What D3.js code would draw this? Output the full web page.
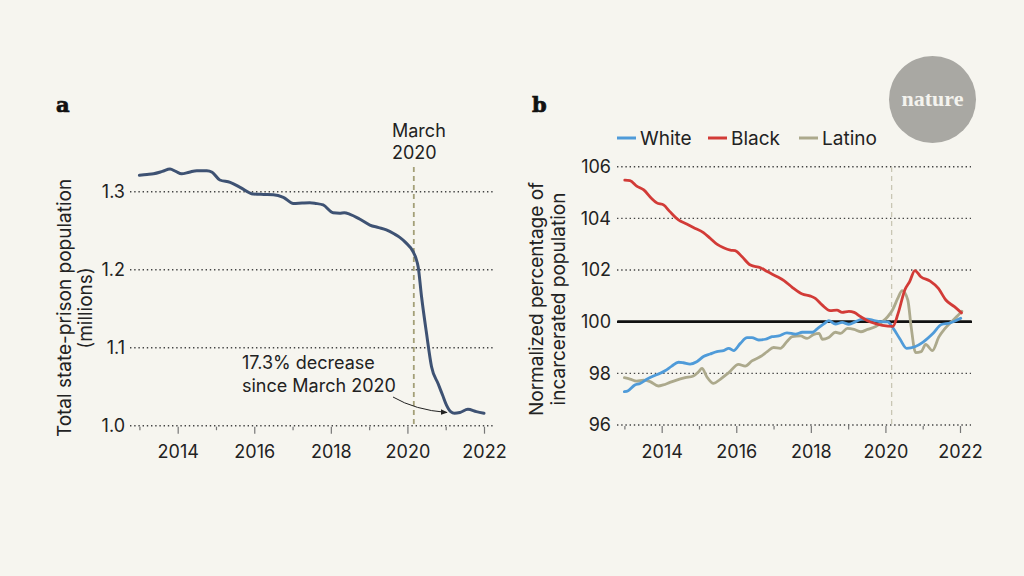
<!DOCTYPE html>
<html>
<head>
<meta charset="utf-8">
<script src="https://cdn.jsdelivr.net/npm/d3@7"></script>
<style>
  html, body { margin: 0; padding: 0; background: #f6f5ef; }
  svg { display: block; font-family: Inter, "Noto Sans", sans-serif; }
</style>
</head>
<body>
<div id="chart"></div>
<script>
// ---- data ----
// panel a: total state-prison population (millions)
const yearsA = [2013.0, 2013.2, 2013.37, 2013.6, 2013.8, 2013.95, 2014.1, 2014.3, 2014.5, 2014.76,
  2014.9, 2015.1, 2015.37, 2015.63, 2015.97, 2016.25, 2016.5, 2016.76, 2017.02, 2017.25, 2017.45,
  2017.6, 2017.8, 2018.06, 2018.23, 2018.35, 2018.5, 2018.75, 2019.02, 2019.25, 2019.45, 2019.65,
  2019.8, 2019.95, 2020.15, 2020.22, 2020.28, 2020.37, 2020.5, 2020.63, 2020.8, 2020.92, 2021.02,
  2021.13, 2021.23, 2021.37, 2021.58, 2021.8, 2022.0];
const popA = [1.321, 1.322, 1.323, 1.326, 1.329, 1.326, 1.323, 1.325, 1.327, 1.327,
  1.325, 1.315, 1.312, 1.3056, 1.297, 1.2965, 1.2962, 1.2928, 1.285, 1.2855, 1.2858,
  1.285, 1.283, 1.273, 1.2725, 1.273, 1.271, 1.265, 1.2573, 1.254, 1.251, 1.246,
  1.2415, 1.235, 1.223, 1.215, 1.2038, 1.165, 1.118, 1.0756, 1.054, 1.039, 1.0265,
  1.018, 1.016, 1.017, 1.021, 1.018, 1.016];

// panel b: normalized percentage of incarcerated population
const yearsWhite = [2013.0, 2013.1, 2013.28, 2013.42, 2013.6, 2013.78, 2013.96, 2014.09, 2014.27,
  2014.45, 2014.58, 2014.76, 2014.94, 2015.12, 2015.3, 2015.48, 2015.66, 2015.8, 2015.93, 2016.11,
  2016.29, 2016.42, 2016.6, 2016.78, 2016.96, 2017.14, 2017.36, 2017.59, 2017.77, 2018.04, 2018.17,
  2018.39, 2018.48, 2018.66, 2018.84, 2019.02, 2019.2, 2019.38, 2019.52, 2019.7, 2019.88, 2020.06,
  2020.21, 2020.39, 2020.57, 2020.79, 2021.01, 2021.28, 2021.5, 2021.73, 2022.02];
const white = [97.29, 97.33, 97.55, 97.61, 97.77, 97.9, 98.0, 98.1, 98.28,
  98.43, 98.41, 98.36, 98.45, 98.65, 98.75, 98.84, 98.88, 98.97, 98.88, 99.16,
  99.38, 99.38, 99.29, 99.32, 99.42, 99.45, 99.57, 99.52, 99.59, 99.59, 99.72,
  99.96, 100.04, 99.91, 99.97, 99.9, 100.0, 100.1, 100.1, 100.04, 100.0, 99.99,
  99.74, 99.33, 98.97, 99.03, 99.21, 99.55, 99.89, 99.95, 100.13];

const yearsBlack = [2013.01, 2013.15, 2013.33, 2013.52, 2013.73, 2013.87, 2014.05, 2014.22, 2014.45,
  2014.67, 2014.85, 2015.12, 2015.3, 2015.48, 2015.66, 2015.84, 2015.97, 2016.15, 2016.38, 2016.65,
  2016.83, 2017.1, 2017.28, 2017.5, 2017.77, 2017.99, 2018.12, 2018.3, 2018.52, 2018.7, 2018.84,
  2019.02, 2019.16, 2019.34, 2019.52, 2019.7, 2019.92, 2020.2, 2020.34, 2020.52, 2020.65, 2020.79,
  2020.95, 2021.2, 2021.42, 2021.62, 2021.85, 2022.04];
const black = [105.48, 105.46, 105.25, 105.1, 104.77, 104.6, 104.52, 104.26, 103.94,
  103.78, 103.65, 103.45, 103.23, 103.0, 102.86, 102.77, 102.75, 102.52, 102.19, 102.09,
  101.94, 101.74, 101.59, 101.33, 101.07, 100.99, 100.9, 100.65, 100.43, 100.45, 100.36,
  100.4, 100.36, 100.19, 100.04, 99.94, 99.86, 99.82, 100.32, 101.23, 101.55, 101.98,
  101.74, 101.57, 101.29, 100.84, 100.58, 100.34];

const yearsLatino = [2013.0, 2013.15, 2013.33, 2013.51, 2013.69, 2013.91, 2014.04, 2014.22, 2014.4,
  2014.63, 2014.85, 2014.99, 2015.08, 2015.21, 2015.39, 2015.57, 2015.8, 2016.06, 2016.24, 2016.42,
  2016.65, 2016.83, 2017.0, 2017.18, 2017.36, 2017.5, 2017.72, 2017.9, 2018.08, 2018.22, 2018.31,
  2018.48, 2018.66, 2018.8, 2018.98, 2019.16, 2019.34, 2019.52, 2019.74, 2019.92, 2020.06, 2020.19,
  2020.33, 2020.45, 2020.6, 2020.69, 2020.81, 2020.96, 2021.08, 2021.26, 2021.43, 2021.6, 2021.77,
  2021.95, 2022.05];
const latino = [97.83, 97.78, 97.7, 97.74, 97.68, 97.51, 97.55, 97.65, 97.74,
  97.83, 97.9, 98.06, 98.19, 97.87, 97.61, 97.77, 98.03, 98.35, 98.28, 98.48,
  98.65, 98.84, 99.0, 98.97, 99.23, 99.42, 99.45, 99.35, 99.51, 99.55, 99.32,
  99.39, 99.59, 99.55, 99.74, 99.7, 99.61, 99.7, 99.81, 100.0, 100.19, 100.45,
  100.9, 101.2, 100.84, 99.8, 98.8, 98.84, 99.12, 98.88, 99.4, 99.74, 100.0,
  100.25, 100.4];

const yearTicks = d3.range(2013, 2023);
const ticksA = [1.0, 1.1, 1.2, 1.3];
const ticksB = [96, 98, 100, 102, 104, 106];
const march2020 = 2020 + 2 / 12;

const series = [
  { name: "White", years: yearsWhite, values: white, color: "#4f9bd9" },
  { name: "Black", years: yearsBlack, values: black, color: "#d23b37" },
  { name: "Latino", years: yearsLatino, values: latino, color: "#aca98c" }
];

// ---- drawing ----
const W = 1024, H = 576;
const svg = d3.select("#chart").append("svg").attr("width", W).attr("height", H);
svg.append("rect").attr("width", W).attr("height", H).attr("fill", "#f6f5ef");

const textCol = "#222";
const fs = 18;

function xAxis(g, x, y0) {
  const ax = d3.axisBottom(x).tickValues(yearTicks).tickSize(7).tickPadding(12)
    .tickFormat(d => d % 2 === 0 ? d : "");
  g.attr("transform", `translate(0,${y0 + 1})`).call(ax);
  g.select(".domain").remove();
  g.selectAll(".tick line").attr("stroke", "#777").attr("stroke-width", 1.2)
    .attr("y2", d => d % 2 === 0 ? 7 : 3.5);
  g.selectAll(".tick text").attr("fill", textCol).attr("font-size", fs)
    .attr("font-family", "Inter, sans-serif");
}

function grid(g, y, ticks, x0, x1, solidAt) {
  g.selectAll("line").data(ticks).join("line")
    .attr("x1", x0).attr("x2", x1)
    .attr("y1", d => y(d)).attr("y2", d => y(d))
    .attr("stroke", d => d === solidAt ? "#111" : "#444")
    .attr("stroke-width", d => d === solidAt ? 2.6 : 1.4)
    .attr("stroke-dasharray", d => d === solidAt ? null : "1.4 2.8");
}

function yLabels(g, y, ticks, xr, fmt) {
  g.selectAll("text").data(ticks).join("text")
    .attr("x", xr).attr("y", d => y(d)).attr("dy", "0.35em")
    .attr("text-anchor", "end").attr("font-size", fs).attr("fill", textCol)
    .text(fmt);
}

// ---- panel a ----
const xA = d3.scaleLinear().domain([2013, 2022]).range([139.4, 484]);
const yA = d3.scaleLinear().domain([1.0, 1.3]).range([425.7, 191.7]);

grid(svg.append("g"), yA, ticksA, 130, 495, null);
yLabels(svg.append("g"), yA, ticksA, 125, d3.format(".1f"));
xAxis(svg.append("g"), xA, yA(1.0));

svg.append("line")
  .attr("x1", xA(march2020)).attr("x2", xA(march2020))
  .attr("y1", 167).attr("y2", 424)
  .attr("stroke", "#a39f78").attr("stroke-width", 1.8).attr("stroke-dasharray", "5 4");

svg.append("path")
  .datum(yearsA.map((d, i) => [d, popA[i]]))
  .attr("fill", "none").attr("stroke", "#3e5273").attr("stroke-width", 3)
  .attr("stroke-linejoin", "round").attr("stroke-linecap", "round")
  .attr("d", d3.line().x(d => xA(d[0])).y(d => yA(d[1])).curve(d3.curveMonotoneX));

svg.append("text").attr("x", 392).attr("y", 137).attr("font-size", fs).attr("fill", textCol).text("March");
svg.append("text").attr("x", 392).attr("y", 159).attr("font-size", fs).attr("fill", textCol).text("2020");

svg.append("text").attr("x", 242).attr("y", 369).attr("font-size", fs).attr("fill", textCol).text("17.3% decrease");
svg.append("text").attr("x", 242).attr("y", 391.5).attr("font-size", fs).attr("fill", textCol).text("since March 2020");

svg.append("defs").append("marker")
  .attr("id", "arr").attr("viewBox", "0 0 10 10").attr("refX", 9).attr("refY", 5)
  .attr("markerWidth", 7).attr("markerHeight", 7).attr("orient", "auto")
  .append("path").attr("d", "M0,1 L10,5 L0,9 Z").attr("fill", "#222");
svg.append("path")
  .attr("d", "M393,397 Q415,410 447,412.5")
  .attr("fill", "none").attr("stroke", "#222").attr("stroke-width", 1)
  .attr("marker-end", "url(#arr)");

svg.append("text")
  .attr("transform", "translate(71,308) rotate(-90)")
  .attr("text-anchor", "middle").attr("font-size", 19).attr("fill", textCol)
  .text("Total state-prison population");
svg.append("text")
  .attr("transform", "translate(92,308) rotate(-90)")
  .attr("text-anchor", "middle").attr("font-size", 19).attr("fill", textCol)
  .text("(millions)");

svg.append("text").attr("x", 56).attr("y", 112)
  .attr("font-family", "'DejaVu Serif', serif").attr("font-weight", 900)
  .attr("font-size", 21).attr("fill", "#111").attr("stroke", "#111").attr("stroke-width", 0.7)
  .text("a");

// ---- panel b ----
const xB = d3.scaleLinear().domain([2013, 2022]).range([624.4, 960]);
const yB = d3.scaleLinear().domain([96, 106]).range([425, 166.7]);

grid(svg.append("g"), yB, ticksB, 617, 971, 100);
yLabels(svg.append("g"), yB, ticksB, 611, d3.format("d"));
xAxis(svg.append("g"), xB, yB(96));

svg.append("line")
  .attr("x1", xB(march2020)).attr("x2", xB(march2020))
  .attr("y1", 167).attr("y2", 427)
  .attr("stroke", "#c9c6b4").attr("stroke-width", 1.3).attr("stroke-dasharray", "5 4");

// solid 100 line above the dashed marker, under the series
svg.append("line")
  .attr("x1", 618).attr("x2", 972).attr("y1", yB(100)).attr("y2", yB(100))
  .attr("stroke", "#111").attr("stroke-width", 2.6);

const lineB = d3.line().x(d => xB(d[0])).y(d => yB(d[1])).curve(d3.curveMonotoneX);
["Latino", "White", "Black"].forEach(n => {
  const s = series.find(d => d.name === n);
  svg.append("path")
    .datum(s.years.map((d, i) => [d, s.values[i]]))
    .attr("fill", "none").attr("stroke", s.color).attr("stroke-width", 2.8)
    .attr("stroke-linejoin", "round").attr("stroke-linecap", "round")
    .attr("d", lineB);
});

// legend
const legX = [617, 708, 799];
series.forEach((s, i) => {
  const g = svg.append("g").attr("transform", `translate(${legX[i]},138)`);
  g.append("line").attr("x1", 0).attr("x2", 19).attr("y1", 0).attr("y2", 0)
    .attr("stroke", s.color).attr("stroke-width", 3);
  g.append("text").attr("x", 23).attr("y", 0).attr("dy", "0.35em")
    .attr("font-size", 19).attr("fill", textCol).text(s.name);
});

svg.append("text")
  .attr("transform", "translate(543,299) rotate(-90)")
  .attr("text-anchor", "middle").attr("font-size", 19).attr("fill", textCol)
  .text("Normalized percentage of");
svg.append("text")
  .attr("transform", "translate(565,299) rotate(-90)")
  .attr("text-anchor", "middle").attr("font-size", 19).attr("fill", textCol)
  .text("incarcerated population");

svg.append("text").attr("x", 532).attr("y", 112)
  .attr("font-family", "'DejaVu Serif', serif").attr("font-weight", 900)
  .attr("font-size", 21).attr("fill", "#111").attr("stroke", "#111").attr("stroke-width", 0.7)
  .text("b");

// nature logo
svg.append("circle").attr("cx", 932.5).attr("cy", 99.5).attr("r", 43.5).attr("fill", "#a9a8a3");
svg.append("text").attr("x", 932.5).attr("y", 106).attr("text-anchor", "middle")
  .attr("font-family", "'Liberation Serif', 'DejaVu Serif', serif").attr("font-weight", 700)
  .attr("font-size", 22).attr("fill", "#f4f3ee").text("nature");
</script>
</body>
</html>
